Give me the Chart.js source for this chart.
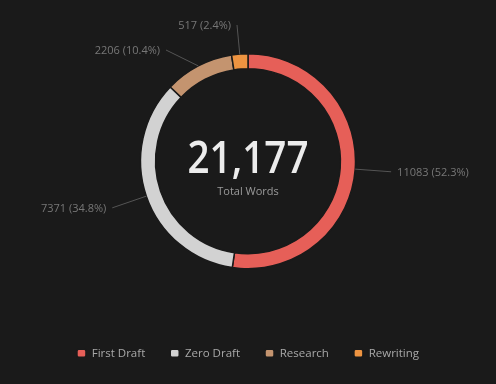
<!DOCTYPE html>
<html>
<head>
<meta charset="utf-8">
<script src="https://cdn.jsdelivr.net/npm/chart.js@4/dist/chart.umd.min.js"></script>
<style>
  html, body { margin: 0; padding: 0; background: #1a1a1a; }
  #wrap { width: 496px; height: 384px; position: relative; }
</style>
</head>
<body>
<div id="wrap"><canvas id="c"></canvas></div>
<script>
const categories = ["First Draft", "Zero Draft", "Research", "Rewriting"];
const wordCounts = [11083, 7371, 2206, 517];
const segmentColors = ["#e65f58", "#d2d2d2", "#c4946f", "#ee9441"];
const centerTitle = "Total Words";

const total = wordCounts.reduce((a, b) => a + b, 0);

const centerTextPlugin = {
  id: "centerText",
  afterDraw(chart) {
    const meta = chart.getDatasetMeta(0);
    if (!meta.data.length) return;
    const arc = meta.data[0];
    const ctx = chart.ctx;
    ctx.save();
    ctx.textAlign = "center";
    ctx.textBaseline = "alphabetic";
    ctx.fillStyle = "#ececec";
    ctx.font = "600 46px 'Open Sans'";
    ctx.save();
    ctx.translate(arc.x, arc.y + 12);
    ctx.scale(0.84, 1);
    ctx.fillText(total.toLocaleString("en-US"), 0, 0);
    ctx.restore();
    ctx.fillStyle = "#9a9a9a";
    ctx.font = "11px 'Open Sans'";
    ctx.textBaseline = "middle";
    ctx.fillText(centerTitle, arc.x, arc.y + 31);
    ctx.restore();
  }
};

const outerLabelPlugin = {
  id: "outerLabels",
  afterDatasetsDraw(chart) {
    const meta = chart.getDatasetMeta(0);
    const ctx = chart.ctx;
    const L = 36, minY = 25, gap = 25;
    const items = meta.data.map((arc, i) => {
      const mid = (arc.startAngle + arc.endAngle) / 2;
      const dx = Math.cos(mid), dy = Math.sin(mid);
      const sx = arc.x + dx * arc.outerRadius, sy = arc.y + dy * arc.outerRadius;
      let ex = sx + dx * L, ey = sy + dy * L;
      if (ey < minY) ey = minY;
      const v = wordCounts[i];
      return { i, sx, sy, ex, ey, right: dx >= 0,
        text: v + " (" + (v / total * 100).toFixed(1) + "%)" };
    });
    [true, false].forEach(side => {
      const list = items.filter(it => it.right === side).sort((a, b) => a.ey - b.ey);
      for (let k = 1; k < list.length; k++) {
        const prev = list[k - 1], cur = list[k];
        if (cur.ey - prev.ey < gap) {
          cur.ey = prev.ey + gap;
          const ddy = cur.ey - cur.sy;
          const ddx = Math.sqrt(Math.max(L * L - ddy * ddy, 0));
          cur.ex = cur.sx + (side ? ddx : -ddx);
        }
      }
    });
    ctx.save();
    ctx.strokeStyle = "#555555";
    ctx.lineWidth = 1;
    ctx.font = "11px 'Open Sans'";
    ctx.fillStyle = "#777777";
    ctx.textBaseline = "middle";
    items.forEach(it => {
      ctx.beginPath();
      ctx.moveTo(it.sx, it.sy);
      ctx.lineTo(it.ex, it.ey);
      ctx.stroke();
      ctx.textAlign = it.right ? "left" : "right";
      ctx.fillText(it.text, it.ex + (it.right ? 6 : -6), it.ey + 1);
    });
    ctx.restore();
  }
};

new Chart(document.getElementById("c"), {
  type: "doughnut",
  data: {
    labels: categories,
    datasets: [{
      data: wordCounts,
      backgroundColor: segmentColors,
      borderColor: "#1a1a1a",
      borderWidth: 1.5,
      hoverOffset: 0
    }]
  },
  options: {
    responsive: true,
    maintainAspectRatio: false,
    animation: false,
    radius: 107.5,
    cutout: "86%",
    layout: { padding: { top: 0, bottom: 15, left: 0, right: 0 } },
    plugins: {
      tooltip: { enabled: false },
      legend: {
        position: "bottom",
        labels: {
          color: "#a8a8a8",
          font: { family: "'Open Sans'", size: 11.5 },
          boxWidth: 9,
          boxHeight: 8,
          useBorderRadius: true,
          borderRadius: 2,
          padding: 25
        }
      }
    }
  },
  plugins: [outerLabelPlugin, centerTextPlugin]
});
</script>
</body>
</html>
